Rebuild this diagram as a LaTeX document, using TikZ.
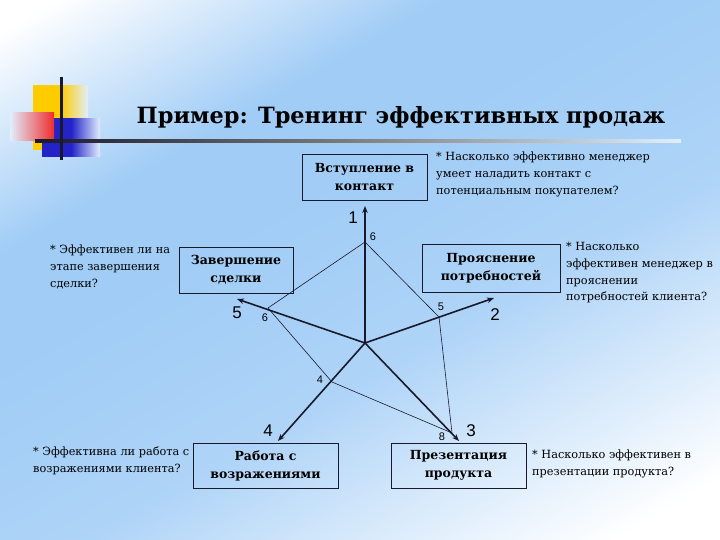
\documentclass[tikz,border=0pt]{standalone}
\usepackage{fontspec}
\setmainfont{DejaVu Serif}
\setsansfont{Liberation Sans}
\usetikzlibrary{arrows.meta,positioning}
\definecolor{skyband}{RGB}{160,204,246}
\definecolor{paleback}{RGB}{225,238,252}
\definecolor{inkdark}{RGB}{25,25,45}
\definecolor{decoyellow}{RGB}{255,204,0}
\definecolor{decored}{RGB}{240,45,45}
\definecolor{decoblue}{RGB}{35,35,200}
\pgfdeclareverticalshading{slideback}{100bp}{color(0bp)=(white); color(20bp)=(white); color(42bp)=(skyband!85!white); color(58bp)=(skyband); color(66bp)=(skyband); color(82bp)=(white); color(100bp)=(white)}
\tikzset{
  stage/.style={rectangle, draw=inkdark, line width=0.9pt, font=\bfseries\fontsize{12.5}{18}\selectfont, align=center, inner sep=2pt},
  note/.style={anchor=north west, align=left, font=\fontsize{11.3}{16.8}\selectfont, inner sep=0pt},
  axisarr/.style={-{Stealth[length=7pt,width=5.5pt]}, line width=1.6pt, draw=inkdark},
  poly/.style={line width=0.6pt, draw=inkdark},
  axnum/.style={font=\sffamily\fontsize{17}{17}\selectfont, inner sep=0pt},
  score/.style={font=\sffamily\fontsize{11}{11}\selectfont, inner sep=0pt},
}
\begin{document}
\begin{tikzpicture}[x=1pt,y=-1pt]
  \shade[shading=slideback, shading angle=30] (0,0) rectangle (720,540);
  \useasboundingbox (0,0) rectangle (720,540);
  \shade[left color=decoyellow, right color=paleback, middle color=decoyellow] (33,86) rectangle (88,150);
  \shade[left color=decoblue, right color=paleback, middle color=decoblue] (42,119) rectangle (100,157);
  \shade[left color=paleback, right color=decored] (10,113) rectangle (54,141);
  \shade[left color=inkdark, right color=paleback, middle color=gray] (35,139.5) rectangle (681,142.5);
  \fill[inkdark] (59.5,77) rectangle (62.5,160);
  \node[font=\bfseries\fontsize{22.4}{22}\selectfont, anchor=base] (title) at (401,124) {Пример: Тренинг эффективных продаж};

  \node[stage, minimum width=125pt, minimum height=46pt] (contact) at (364.5,177) {Вступление в\\контакт};
  \node[stage, minimum width=138pt, minimum height=48pt] (needs) at (491,268) {Прояснение\\потребностей};
  \node[stage, minimum width=135pt, minimum height=45pt] (present) at (458.5,465.5) {Презентация\\продукта};
  \node[stage, minimum width=145pt, minimum height=45pt] (objections) at (265.5,465.5) {Работа с\\возражениями};
  \node[stage, minimum width=114pt, minimum height=46pt] (closing) at (236,270) {Завершение\\сделки};

  \node[note] (qcontact) at (436,152) {* Насколько эффективно менеджер\\умеет наладить контакт с\\потенциальным покупателем?};
  \node[note] (qneeds) at (566,242) {* Насколько\\эффективен менеджер в\\прояснении\\потребностей клиента?};
  \node[note] (qpresent) at (532,450) {* Насколько эффективен в\\презентации продукта?};
  \node[note] (qobjections) at (33,447) {* Эффективна ли работа с\\возражениями клиента?};
  \node[note] (qclosing) at (50,245) {* Эффективен ли на\\этапе завершения\\сделки?};

  \coordinate (hub) at (365,343);
  \coordinate (tip1) at (365,206);
  \coordinate (tip2) at (494,298);
  \coordinate (tip3) at (459,441);
  \coordinate (tip4) at (278,441);
  \coordinate (tip5) at (237,299);
  \coordinate (p1) at (365,242);
  \coordinate (p2) at (439,317);
  \coordinate (p3) at (452,433);
  \coordinate (p4) at (332,382);
  \coordinate (p5) at (268,308);
  \draw[poly] (p1) -- (p2) -- (p3) -- (p4) -- (p5) -- cycle;
  \foreach \t in {1,...,5}{\draw[axisarr] (hub) -- (tip\t);}
  \foreach \n/\x/\y in {1/353/218,2/495/315,3/471/431,4/268/431,5/237/313}{\node[axnum] (ax\n) at (\x,\y) {\n};}
  \foreach \n/\v/\x/\y in {1/6/373/237,2/5/441/307,3/8/442/437,4/4/320/380,5/6/265/318}{\node[score] (sc\n) at (\x,\y) {\v};}
\end{tikzpicture}
\end{document}
